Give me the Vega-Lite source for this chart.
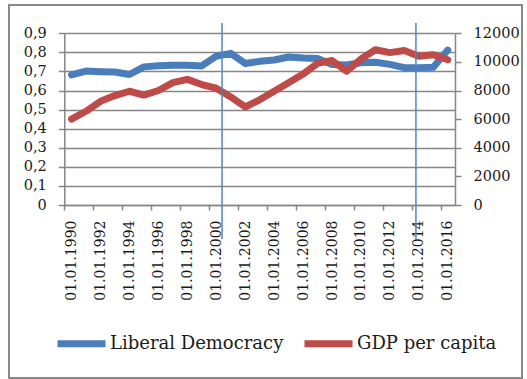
{
  "$schema": "https://vega.github.io/schema/vega-lite/v6.json",
  "width": 513,
  "height": 373,
  "autosize": {"type": "none"},
  "padding": {"left": 9, "top": 5, "right": 5, "bottom": 1},
  "background": "white",
  "config": {
    "view": {"stroke": "#8a8a8a", "strokeWidth": 2},
    "font": "DejaVu Serif",
    "axis": {
      "labelFont": "DejaVu Serif",
      "labelColor": "#1a1a1a",
      "domainColor": "#868686",
      "tickColor": "#868686",
      "gridColor": "#868686",
      "domainWidth": 1.5,
      "tickWidth": 1.5,
      "gridWidth": 1.5,
      "title": null
    }
  },
  "data": {
    "values": [
      {"year": 1990, "democracy": 0.682, "gdp": 6000},
      {"year": 1991, "democracy": 0.702, "gdp": 6550},
      {"year": 1992, "democracy": 0.699, "gdp": 7250},
      {"year": 1993, "democracy": 0.697, "gdp": 7650},
      {"year": 1994, "democracy": 0.684, "gdp": 7950},
      {"year": 1995, "democracy": 0.724, "gdp": 7680},
      {"year": 1996, "democracy": 0.730, "gdp": 8000},
      {"year": 1997, "democracy": 0.732, "gdp": 8550},
      {"year": 1998, "democracy": 0.732, "gdp": 8780},
      {"year": 1999, "democracy": 0.729, "gdp": 8420},
      {"year": 2000, "democracy": 0.780, "gdp": 8160},
      {"year": 2001, "democracy": 0.795, "gdp": 7550},
      {"year": 2002, "democracy": 0.742, "gdp": 6850},
      {"year": 2003, "democracy": 0.753, "gdp": 7350},
      {"year": 2004, "democracy": 0.760, "gdp": 7950},
      {"year": 2005, "democracy": 0.776, "gdp": 8550},
      {"year": 2006, "democracy": 0.771, "gdp": 9150},
      {"year": 2007, "democracy": 0.768, "gdp": 9900},
      {"year": 2008, "democracy": 0.737, "gdp": 10100},
      {"year": 2009, "democracy": 0.734, "gdp": 9350},
      {"year": 2010, "democracy": 0.746, "gdp": 10200},
      {"year": 2011, "democracy": 0.748, "gdp": 10850},
      {"year": 2012, "democracy": 0.737, "gdp": 10650},
      {"year": 2013, "democracy": 0.720, "gdp": 10800},
      {"year": 2014, "democracy": 0.720, "gdp": 10400},
      {"year": 2015, "democracy": 0.722, "gdp": 10500},
      {"year": 2016, "democracy": 0.812, "gdp": 10150}
    ]
  },
  "encoding": {
    "x": {
      "field": "year",
      "type": "quantitative",
      "scale": {"domain": [1989.5, 2016.5], "range": [55.3, 446], "nice": false, "zero": false},
      "axis": {
        "orient": "bottom",
        "offset": -173,
        "values": [1990, 1992, 1994, 1996, 1998, 2000, 2002, 2004, 2006, 2008, 2010, 2012, 2014, 2016],
        "labelExpr": "'01.01.' + datum.value",
        "labelAngle": 270,
        "labelFontSize": 14,
        "labelPadding": 10,
        "tickSize": 5,
        "tickOffset": -7.23,
        "labelOffset": 7.23,
        "grid": false,
        "labelOverlap": false,
        "labelBound": false,
        "labelFlush": false
      }
    }
  },
  "layer": [
    {
      "mark": {"type": "line", "strokeWidth": 7, "strokeJoin": "round", "strokeCap": "round"},
      "encoding": {
        "y": {
          "field": "democracy",
          "type": "quantitative",
          "scale": {"domain": [0, 0.9], "range": [200, 28.3], "nice": false},
          "axis": {
            "orient": "left",
            "offset": -55.3,
            "values": [0, 0.1, 0.2, 0.3, 0.4, 0.5, 0.6, 0.7, 0.8, 0.9],
            "labelExpr": "datum.value == 0 ? '0' : replace(format(datum.value, '.1f'), '.', ',')",
            "labelFontSize": 14.5,
            "labelPadding": 12,
            "tickSize": 6,
            "grid": true
          }
        },
        "color": {
          "datum": "Liberal Democracy",
          "type": "nominal",
          "scale": {"domain": ["Liberal Democracy", "GDP per capita"], "range": ["#4A7EBB", "#BE4B48"]},
          "legend": {
            "orient": "none",
            "direction": "horizontal",
            "legendX": 45,
            "legendY": 311,
            "title": null,
            "padding": 0,
            "symbolType": "stroke",
            "symbolSize": 2304,
            "symbolStrokeWidth": 7,
            "labelFont": "DejaVu Serif",
            "labelFontSize": 18,
            "labelColor": "#1a1a1a",
            "labelOffset": 1,
            "labelLimit": 400,
            "columnPadding": 6
          }
        }
      }
    },
    {
      "mark": {"type": "line", "strokeWidth": 7, "strokeJoin": "round", "strokeCap": "round"},
      "encoding": {
        "y": {
          "field": "gdp",
          "type": "quantitative",
          "scale": {"domain": [0, 12000], "range": [200, 28.3], "nice": false},
          "axis": {
            "orient": "right",
            "offset": -67,
            "values": [0, 2000, 4000, 6000, 8000, 10000, 12000],
            "format": "d",
            "labelFontSize": 14.5,
            "labelPadding": 12,
            "tickSize": 6,
            "grid": false
          }
        },
        "color": {"datum": "GDP per capita", "type": "nominal"}
      }
    },
    {
      "data": {"values": [{"year": 2000.4}, {"year": 2013.8}]},
      "mark": {"type": "rule", "color": "#4F86C6", "strokeWidth": 1.5},
      "encoding": {
        "y": {"datum": 0.954, "type": "quantitative", "scale": {"domain": [0, 0.9], "range": [200, 28.3], "nice": false}, "axis": null},
        "y2": {"datum": -0.178}
      }
    }
  ],
  "resolve": {"scale": {"y": "independent"}}
}
